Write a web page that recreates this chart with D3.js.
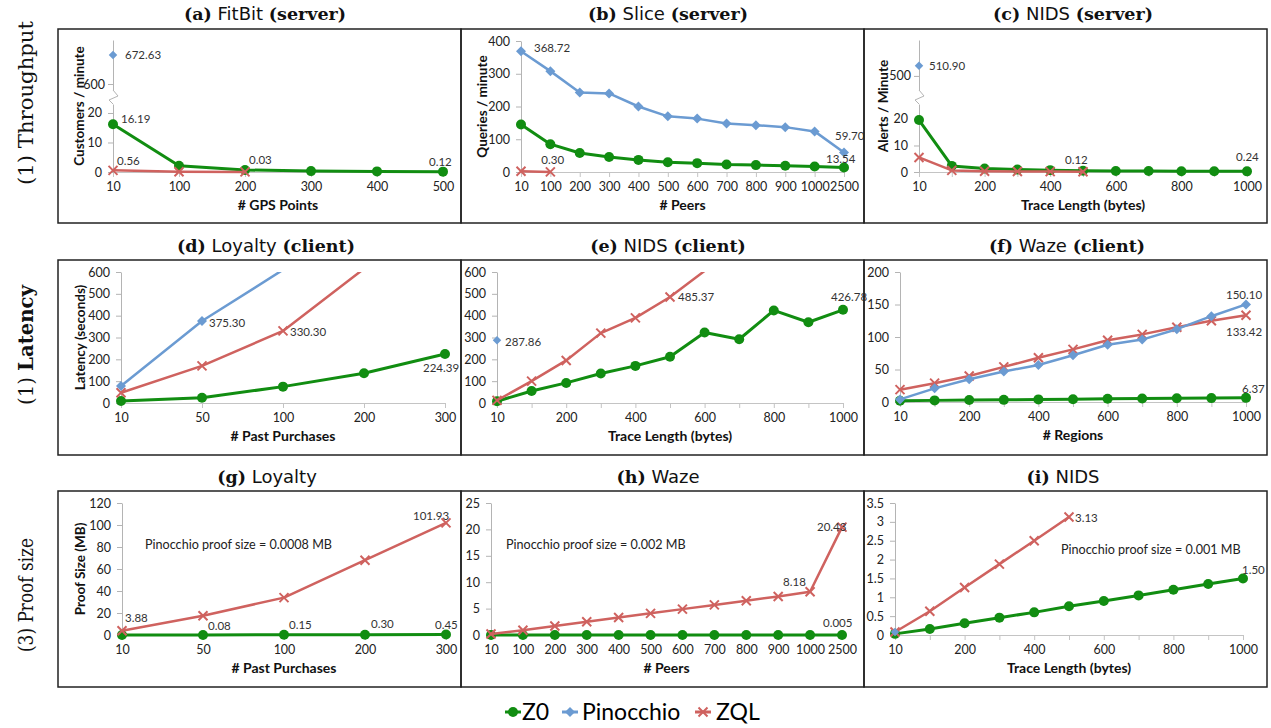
<!DOCTYPE html>
<html>
<head>
<meta charset="utf-8">
<script src="https://cdn.jsdelivr.net/npm/d3@7"></script>
<style>
  body { margin: 0; background: #fff; }
  text { font-family: Lato, "Open Sans", sans-serif; }
</style>
</head>
<body>
<svg id="chart"></svg>
<script>
// ---- categories (x axes) ----
const catsGps = [10, 100, 200, 300, 400, 500];
const catsPeers = [10, 100, 200, 300, 400, 500, 600, 700, 800, 900, 1000, 2500];
const catsTrace = [10, 100, 200, 300, 400, 500, 600, 700, 800, 900, 1000];
const catsPurch = [10, 50, 100, 200, 300];
const labelsTrace = [10, 200, 400, 600, 800, 1000];

// ---- (a) FitBit server throughput ----
const fitbitZ0 = [16.19, 2.1, 0.7, 0.3, 0.2, 0.12];
const fitbitPin = [672.63];
const fitbitZql = [0.56, 0.1, 0.03];

// ---- (b) Slice server throughput ----
const sliceZ0 = [145, 85, 58, 46, 37, 30, 27, 23, 21, 19, 17, 13.54];
const slicePin = [368.72, 308, 243, 240, 200, 170, 163, 148, 143, 137, 124, 59.70];
const sliceZql = [2.5, 0.30];

// ---- (c) NIDS server throughput ----
const nidsSrvZ0 = [19.6, 2.3, 1.3, 0.9, 0.7, 0.5, 0.4, 0.35, 0.3, 0.28, 0.24];
const nidsSrvPin = [510.90];
const nidsSrvZql = [5.5, 0.6, 0.3, 0.2, 0.15, 0.12];

// ---- (d) Loyalty client latency ----
const loyZ0 = [9, 24, 75, 136, 224.39];
const loyPin = [78, 375.30, 610];
const loyZql = [47, 170, 330.30, 615];

// ---- (e) NIDS client latency ----
const nidsCliZ0 = [8, 55, 92, 135, 170, 212, 323, 292, 424, 370, 426.78];
const nidsCliPin = [287.86];
const nidsCliZql = [12, 100, 195, 320, 390, 485.37, 605];

// ---- (f) Waze client latency ----
const wazeCliZ0 = [2, 2.5, 3, 3.3, 4, 4.3, 5, 5.5, 5.8, 6, 6.37];
const wazeCliPin = [4, 21, 35, 47, 57, 72, 88, 96, 112, 132, 150.10];
const wazeCliZql = [19, 29, 40, 54, 68, 81, 95, 104, 115, 125, 133.42];

// ---- (g) Loyalty proof size ----
const loyProofZ0 = [0.02, 0.08, 0.15, 0.30, 0.45];
const loyProofZql = [3.88, 17.5, 34, 68, 101.93];

// ---- (h) Waze proof size ----
const wazeProofZ0 = [0.0005, 0.0008, 0.001, 0.0012, 0.0015, 0.002, 0.0022, 0.0025, 0.003, 0.0035, 0.004, 0.005];
const wazeProofZql = [0.2, 0.9, 1.7, 2.5, 3.3, 4.1, 4.9, 5.7, 6.5, 7.3, 8.18, 20.43];

// ---- (i) NIDS proof size ----
const nidsProofZ0 = [0.03, 0.16, 0.31, 0.46, 0.6, 0.76, 0.9, 1.05, 1.2, 1.35, 1.50];
const nidsProofPin = [0.08];
const nidsProofZql = [0.08, 0.63, 1.26, 1.88, 2.5, 3.13];

// series look
const style = {
  z0:  { name: "Z0",        color: "#118d11", marker: "circle",  width: 3 },
  zql: { name: "ZQL",       color: "#cf625f", marker: "x",       width: 2.5 },
  pin: { name: "Pinocchio", color: "#6b9bd2", marker: "diamond", width: 2.5 }
};
const drawOrder = ["z0", "zql", "pin"];

// panel layout
const panels = [
  { title: ["(a)", "FitBit", "(server)"], tx: 265, ty: 14, box: [58, 29, 461, 223],
    cats: catsGps, xl: 113, xr: 443, y0: 172, top: 40,
    broken: { low: [0, 23.05], lowTop: 104, lowTicks: [0, 10, 20], high: [585, 710], highBot: 90, highTicks: [600] },
    xTitle: "# GPS Points", yTitle: "Customers / minute", yTitleX: 79,
    series: { z0: fitbitZ0, pin: fitbitPin, zql: fitbitZql },
    labels: [["pin", 0, "672.63", 12, 0], ["z0", 0, "16.19", 8, -5], ["zql", 0, "0.56", 4, -9],
             ["zql", 2, "0.03", 4, -12], ["z0", 5, "0.12", -14, -10]] },
  { title: ["(b)", "Slice", "(server)"], tx: 668, ty: 14, box: [461, 29, 864, 223],
    cats: catsPeers, xl: 521, xr: 844, y0: 172, top: 41, domain: [0, 400], yTicks: [0, 100, 200, 300, 400],
    xTitle: "# Peers", yTitle: "Queries / minute", yTitleX: 482,
    series: { z0: sliceZ0, pin: slicePin, zql: sliceZql },
    labels: [["pin", 0, "368.72", 13, -3], ["pin", 11, "59.70", -9, -16], ["z0", 11, "13.54", -18, -9],
             ["zql", 1, "0.30", -9, -12]] },
  { title: ["(c)", "NIDS", "(server)"], tx: 1073, ty: 14, box: [864, 29, 1267, 223],
    cats: catsTrace, xLabels: labelsTrace, xl: 919, xr: 1247, y0: 172, top: 40,
    broken: { low: [0, 25.66], lowTop: 104, lowTicks: [0, 10, 20], high: [484.7, 539], highBot: 90, highTicks: [500] },
    xTitle: "Trace Length (bytes)", yTitle: "Alerts / Minute", yTitleX: 883,
    series: { z0: nidsSrvZ0, pin: nidsSrvPin, zql: nidsSrvZql },
    labels: [["pin", 0, "510.90", 10, 0], ["zql", 5, "0.12", -18, -12], ["z0", 10, "0.24", -11, -14]] },

  { title: ["(d)", "Loyalty", "(client)"], tx: 266, ty: 246, box: [58, 260, 461, 455],
    cats: catsPurch, xl: 121, xr: 445, y0: 403, top: 272, domain: [0, 600], yTicks: [0, 100, 200, 300, 400, 500, 600],
    xTitle: "# Past Purchases", yTitle: "Latency (seconds)", yTitleX: 80,
    series: { z0: loyZ0, pin: loyPin, zql: loyZql },
    labels: [["pin", 1, "375.30", 7, 2], ["zql", 2, "330.30", 7, 1], ["z0", 4, "224.39", -22, 14]] },
  { title: ["(e)", "NIDS", "(client)"], tx: 668, ty: 246, box: [461, 260, 864, 455],
    cats: catsTrace, xLabels: labelsTrace, xl: 497, xr: 843, y0: 403, top: 272, domain: [0, 600], yTicks: [0, 100, 200, 300, 400, 500, 600],
    xTitle: "Trace Length (bytes)",
    series: { z0: nidsCliZ0, pin: nidsCliPin, zql: nidsCliZql },
    labels: [["pin", 0, "287.86", 8, 2], ["zql", 5, "485.37", 8, 0], ["z0", 10, "426.78", -12, -13]] },
  { title: ["(f)", "Waze", "(client)"], tx: 1067, ty: 246, box: [864, 260, 1267, 455],
    cats: catsTrace, xLabels: labelsTrace, xl: 900, xr: 1246, y0: 402, top: 272, domain: [0, 200], yTicks: [0, 50, 100, 150, 200],
    xTitle: "# Regions",
    series: { z0: wazeCliZ0, pin: wazeCliPin, zql: wazeCliZql },
    labels: [["pin", 10, "150.10", -20, -9], ["zql", 10, "133.42", -20, 17], ["z0", 10, "6.37", -4, -9]] },

  { title: ["(g)", "Loyalty", ""], tx: 267, ty: 477, box: [58, 491, 461, 687],
    cats: catsPurch, xl: 122, xr: 446, y0: 635, top: 503, domain: [0, 120], yTicks: [0, 20, 40, 60, 80, 100, 120],
    xTitle: "# Past Purchases", yTitle: "Proof Size (MB)", yTitleX: 80,
    series: { z0: loyProofZ0, zql: loyProofZql },
    note: { text: "Pinocchio proof size = 0.0008 MB", x: 145, y: 545 },
    labels: [["zql", 4, "101.93", -33, -7], ["zql", 0, "3.88", 3, -13], ["z0", 1, "0.08", 5, -9],
             ["z0", 2, "0.15", 5, -10], ["z0", 3, "0.30", 6, -11], ["z0", 4, "0.45", -11, -10]] },
  { title: ["(h)", "Waze", ""], tx: 658, ty: 477, box: [461, 491, 864, 687],
    cats: catsPeers, xl: 491, xr: 842, y0: 635, top: 503, domain: [0, 25], yTicks: [0, 5, 10, 15, 20, 25],
    xTitle: "# Peers",
    series: { z0: wazeProofZ0, zql: wazeProofZql },
    note: { text: "Pinocchio proof size = 0.002 MB", x: 506, y: 545 },
    labels: [["zql", 10, "8.18", -27, -10], ["zql", 11, "20.43", -25, 0], ["z0", 11, "0.005", -19, -12]] },
  { title: ["(i)", "NIDS", ""], tx: 1063, ty: 477, box: [864, 491, 1267, 687],
    cats: catsTrace, xLabels: labelsTrace, xl: 895, xr: 1243, y0: 635, top: 503, domain: [0, 3.5], yTicks: [0, 0.5, 1, 1.5, 2, 2.5, 3, 3.5],
    xTitle: "Trace Length (bytes)",
    series: { z0: nidsProofZ0, pin: nidsProofPin, zql: nidsProofZql },
    note: { text: "Pinocchio proof size = 0.001 MB", x: 1061, y: 550 },
    labels: [["zql", 5, "3.13", 6, 1], ["z0", 10, "1.50", -1, -8]] }
];

const rowLabels = [
  { parts: ["(1) ", "Throughput"], y: 103, len: 164, bold: false },
  { parts: ["(1) ", "Latency"], y: 345, len: 120, bold: true },
  { parts: ["(3) ", "Proof size"], y: 595, len: 114, bold: false }
];

const svg = d3.select("#chart").attr("width", 1271).attr("height", 728);

function marker(g, type, x, y, color, big) {
  const s = big ? 1 : 0.85;
  if (type === "circle") {
    g.append("circle").attr("cx", x).attr("cy", y).attr("r", 5 * s).attr("fill", color);
  } else if (type === "diamond") {
    const r = 5 * s;
    g.append("path").attr("d", `M${x},${y - r}L${x + r},${y}L${x},${y + r}L${x - r},${y}Z`).attr("fill", color);
  } else {
    const r = 4.5 * s;
    g.append("path").attr("d", `M${x - r},${y - r}L${x + r},${y + r}M${x - r},${y + r}L${x + r},${y - r}`)
      .attr("stroke", color).attr("stroke-width", 2).attr("fill", "none");
  }
}

// row labels
rowLabels.forEach(r => {
  const t = svg.append("text")
    .attr("transform", `translate(33,${r.y}) rotate(-90)`)
    .attr("text-anchor", "middle")
    .style("font-family", "'DejaVu Serif', serif")
    .style("font-size", "20px")
    .attr("textLength", r.len).attr("lengthAdjust", "spacingAndGlyphs")
    .attr("fill", "#111");
  t.append("tspan").text(r.parts[0]);
  t.append("tspan").text(r.parts[1]).style("font-weight", r.bold ? "bold" : "normal");
});

panels.forEach((p, pi) => {
  const g = svg.append("g");
  const [bx0, by0, bx1, by1] = p.box;

  // box
  g.append("rect").attr("x", bx0).attr("y", by0).attr("width", bx1 - bx0).attr("height", by1 - by0)
    .attr("fill", "none").attr("stroke", "#222").attr("stroke-width", 1.5);

  // title
  const t = g.append("text").attr("x", p.tx).attr("y", p.ty).attr("dy", "0.35em")
    .attr("text-anchor", "middle").attr("fill", "#111");
  t.append("tspan").text(p.title[0]).style("font-family", "'DejaVu Serif', serif").style("font-weight", "bold").style("font-size", "17.5px");
  t.append("tspan").text("\u00a0" + p.title[1] + (p.title[2] ? "\u00a0" : "")).style("font-family", "'DejaVu Sans', sans-serif").style("font-size", "18px");
  if (p.title[2]) t.append("tspan").text(p.title[2]).style("font-family", "'DejaVu Serif', serif").style("font-weight", "bold").style("font-size", "17.5px");

  // scales
  const x = d3.scalePoint().domain(p.cats).range([p.xl, p.xr]);
  let y, yLow, yHigh;
  if (p.broken) {
    yLow = d3.scaleLinear().domain(p.broken.low).range([p.y0, p.broken.lowTop]);
    yHigh = d3.scaleLinear().domain(p.broken.high).range([p.broken.highBot, p.top]);
    y = v => v <= p.broken.low[1] ? yLow(v) : yHigh(v);
  } else {
    y = d3.scaleLinear().domain(p.domain).range([p.y0, p.top]);
  }
  const yMax = p.broken ? p.broken.high[1] : p.domain[1];

  // x axis
  const shown = p.xLabels || p.cats;
  const xAxis = g.append("g").attr("transform", `translate(0,${p.y0})`)
    .call(d3.axisBottom(x).tickSize(5).tickSizeOuter(0).tickPadding(5)
      .tickFormat(d => shown.includes(d) ? d : ""));
  xAxis.select(".domain").attr("stroke", "#c4c4c4");
  xAxis.selectAll(".tick line").attr("stroke", "#c4c4c4");
  xAxis.selectAll(".tick text").attr("fill", "#222").style("font-size", "12.5px").style("font-family", "Lato, sans-serif");

  // y axis
  function styleY(ax) {
    ax.select(".domain").attr("stroke", "#b4b4b4");
    ax.selectAll(".tick line").attr("stroke", "#b4b4b4");
    ax.selectAll(".tick text").attr("fill", "#222").style("font-size", "12.5px").style("font-family", "Lato, sans-serif");
  }
  if (p.broken) {
    const a1 = g.append("g").attr("transform", `translate(${p.xl},0)`)
      .call(d3.axisLeft(yLow).tickValues(p.broken.lowTicks).tickSize(5).tickSizeOuter(0).tickPadding(6));
    const a2 = g.append("g").attr("transform", `translate(${p.xl},0)`)
      .call(d3.axisLeft(yHigh).tickValues(p.broken.highTicks).tickSize(5).tickSizeOuter(0).tickPadding(3));
    styleY(a1); styleY(a2);
    const lt = p.broken.lowTop, hb = p.broken.highBot, xx = p.xl;
    g.append("path")
      .attr("d", `M${xx},${lt}L${xx - 4},${lt - 4}L${xx + 5},${(lt + hb) / 2 - 1}L${xx},${hb}`)
      .attr("fill", "none").attr("stroke", "#b4b4b4").attr("stroke-width", 1);
  } else {
    const a = g.append("g").attr("transform", `translate(${p.xl},0)`)
      .call(d3.axisLeft(y).tickValues(p.yTicks).tickSize(5).tickSizeOuter(0).tickPadding(6).tickFormat(d3.format("")));
    styleY(a);
  }

  // axis titles
  g.append("text").attr("x", (p.xl + p.xr) / 2).attr("y", p.y0 + 38)
    .attr("text-anchor", "middle").style("font-weight", "bold").style("font-size", "14px").attr("fill", "#111")
    .text(p.xTitle);
  if (p.yTitle) {
    g.append("text").attr("transform", `translate(${p.yTitleX},${(p.y0 + p.top) / 2}) rotate(-90)`)
      .attr("text-anchor", "middle").attr("dy", "0.35em").style("font-weight", "bold").style("font-size", "13.5px").attr("fill", "#111")
      .text(p.yTitle);
  }

  // clip
  const clipId = "clip" + pi;
  svg.append("clipPath").attr("id", clipId).append("rect")
    .attr("x", bx0).attr("y", p.top).attr("width", bx1 - bx0).attr("height", by1 - p.top);

  // lines + markers
  drawOrder.forEach(k => {
    const vals = p.series[k];
    if (!vals) return;
    const st = style[k];
    const pts = vals.map((v, i) => [p.cats[i], v]);
    const line = d3.line().x(d => x(d[0])).y(d => y(d[1]));
    if (pts.length > 1) {
      g.append("path").datum(pts).attr("d", line).attr("clip-path", `url(#${clipId})`)
        .attr("fill", "none").attr("stroke", st.color).attr("stroke-width", st.width).attr("stroke-linejoin", "round");
    }
    pts.filter(d => d[1] <= yMax).forEach(d => marker(g, st.marker, x(d[0]), y(d[1]), st.color, k !== "pin" || pts.length > 1));
  });

  // data labels
  p.labels.forEach(([k, i, txt, dx, dy]) => {
    g.append("text").attr("x", x(p.cats[i]) + dx).attr("y", y(p.series[k][i]) + dy).attr("dy", "0.35em")
      .style("font-size", "11.5px").attr("fill", "#333").text(txt);
  });

  if (p.note) {
    g.append("text").attr("x", p.note.x).attr("y", p.note.y).attr("dy", "0.35em")
      .style("font-size", "12.6px").attr("fill", "#222").text(p.note.text);
  }
});

// legend
const legend = svg.append("g").attr("transform", "translate(0,712)");
const legendItems = [["z0", 505, 522], ["pin", 562, 582], ["zql", 695, 716]];
legendItems.forEach(([k, x0, tx]) => {
  const st = style[k];
  legend.append("line").attr("x1", x0).attr("x2", x0 + 16).attr("y1", 0).attr("y2", 0)
    .attr("stroke", st.color).attr("stroke-width", 3);
  marker(legend, st.marker, x0 + 8, 0, st.color, true);
  legend.append("text").attr("x", tx).attr("y", 0).attr("dy", "0.36em")
    .style("font-size", "23px").attr("fill", "#000").text(st.name);
});
</script>
</body>
</html>
